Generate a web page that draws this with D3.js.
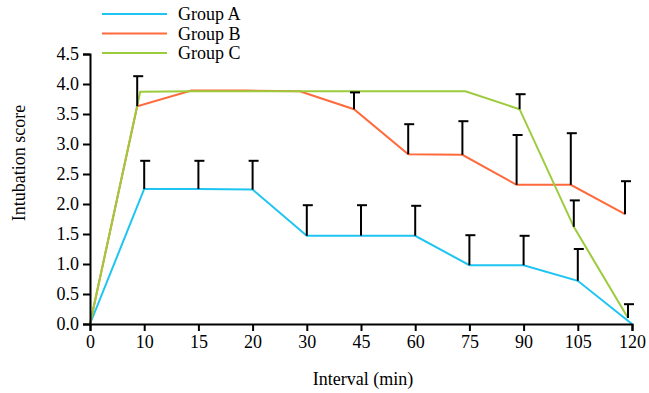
<!DOCTYPE html>
<html>
<head>
<meta charset="utf-8">
<script src="https://cdn.jsdelivr.net/npm/d3@7"></script>
<style>
  body { margin: 0; background: #fff; }
</style>
</head>
<body>
<div id="chart"></div>
<script>
// data
const intervals = ["0", "10", "15", "20", "30", "45", "60", "75", "90", "105", "120"];
const groupNames = ["Group A", "Group B", "Group C"];
const groupAMean = [0, 2.25, 2.25, 2.24, 1.47, 1.47, 1.47, 0.98, 0.98, 0.72, 0];
const groupAErr = [0, 0.47, 0.47, 0.48, 0.51, 0.51, 0.5, 0.5, 0.49, 0.53, 0];
const groupBMean = [0, 3.63, 3.89, 3.89, 3.88, 3.58, 2.83, 2.82, 2.32, 2.32, 1.83];
const groupBErr = [0, 0.5, 0, 0, 0, 0.28, 0.5, 0.56, 0.83, 0.86, 0.55];
const groupCMean = [0, 3.87, 3.88, 3.88, 3.88, 3.88, 3.88, 3.88, 3.58, 1.62, 0.1];
const groupCErr = [0, 0, 0, 0, 0, 0, 0, 0, 0.25, 0.44, 0.23];
const yTicks = [0, 0.5, 1, 1.5, 2, 2.5, 3, 3.5, 4, 4.5];

const CONFIG = {
  width: 649,
  height: 393,
  margin: { top: 54, right: 17, bottom: 69, left: 90 },
  colors: ["#1ec5f2", "#ff6a3d", "#9ccb3c"],
  dodge: [0, -7, -4], // small horizontal shift per group as in the original
  fontSize: 18,
  font: "'Liberation Serif', 'DejaVu Serif', serif",
};

const groups = [
  { name: groupNames[0], mean: groupAMean, err: groupAErr },
  { name: groupNames[1], mean: groupBMean, err: groupBErr },
  { name: groupNames[2], mean: groupCMean, err: groupCErr },
];

const { width, height, margin } = CONFIG;
const innerWidth = width - margin.left - margin.right;
const innerHeight = height - margin.top - margin.bottom;

const svg = d3.select("#chart").append("svg")
  .attr("width", width)
  .attr("height", height);

const g = svg.append("g").attr("transform", `translate(${margin.left},${margin.top})`);

const x = d3.scalePoint().domain(intervals).range([0, innerWidth]).padding(0);
const y = d3.scaleLinear().domain([0, 4.5]).range([innerHeight, 0]);

const px = (gi, i) => x(intervals[i]) + (i === 0 ? 0 : CONFIG.dodge[gi]);

// lines
const line = d3.line().x((d) => d[0]).y((d) => d[1]);
groups.forEach((grp, gi) => {
  const pts = grp.mean.map((v, i) => [px(gi, i), y(v)]);
  g.append("path")
    .attr("d", line(pts))
    .attr("fill", "none")
    .attr("stroke", CONFIG.colors[gi])
    .attr("stroke-width", 2);
});

// error bars (upper only)
groups.forEach((grp, gi) => {
  grp.mean.forEach((v, i) => {
    const e = grp.err[i];
    if (!e) return;
    const cx = px(gi, i);
    const eb = g.append("g").attr("stroke", "#000").attr("stroke-width", 2);
    eb.append("line").attr("x1", cx).attr("x2", cx).attr("y1", y(v)).attr("y2", y(v + e));
    eb.append("line").attr("x1", cx - 4).attr("x2", cx + 6).attr("y1", y(v + e)).attr("y2", y(v + e));
  });
});

// axes
const xAxis = g.append("g")
  .attr("transform", `translate(0,${innerHeight})`)
  .call(d3.axisBottom(x).tickSizeOuter(0).tickSize(7).tickPadding(4));
const yAxis = g.append("g")
  .call(d3.axisLeft(y).tickValues(yTicks).tickFormat(d3.format(".1f")).tickSizeOuter(0).tickSize(7).tickPadding(4));

[xAxis, yAxis].forEach((ax) => {
  ax.attr("font-family", null).attr("font-size", null);
  ax.select(".domain").attr("stroke", "#000").attr("stroke-width", 2);
  ax.selectAll(".tick line").attr("stroke", "#000").attr("stroke-width", 2);
  ax.selectAll("text").attr("fill", "#000");
});

// axis titles
svg.append("text")
  .attr("x", 363)
  .attr("y", 385)
  .attr("text-anchor", "middle")
  .text("Interval (min)");

svg.append("text")
  .attr("transform", "translate(25,163) rotate(-90)")
  .attr("text-anchor", "middle")
  .text("Intubation score");

// legend
const legend = svg.append("g").attr("transform", "translate(102,14)");
groups.forEach((grp, gi) => {
  const row = legend.append("g").attr("transform", `translate(0,${gi * 19.5})`);
  row.append("line")
    .attr("x1", 0).attr("x2", 65)
    .attr("stroke", CONFIG.colors[gi])
    .attr("stroke-width", 2);
  row.append("text")
    .attr("x", 76)
    .attr("y", 6)
    .text(grp.name);
});

// one font for every text
svg.selectAll("text")
  .style("font-family", CONFIG.font)
  .style("font-size", `${CONFIG.fontSize}px`);
</script>
</body>
</html>
